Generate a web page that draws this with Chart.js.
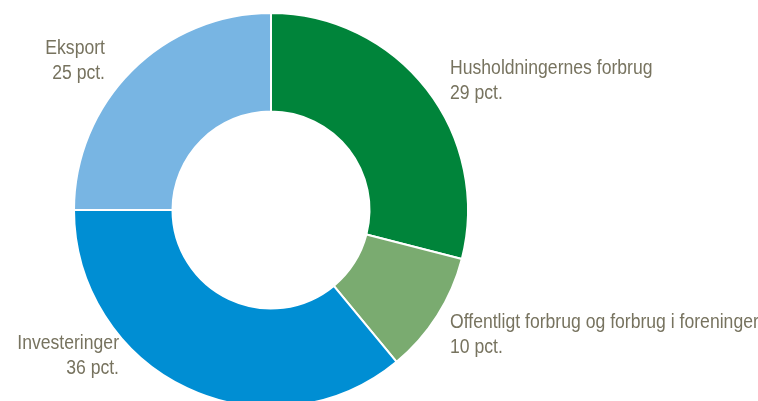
<!DOCTYPE html>
<html>
<head>
<meta charset="utf-8">
<script src="https://cdn.jsdelivr.net/npm/chart.js@4.4.1/dist/chart.umd.min.js"></script>
<style>
  html, body { margin: 0; padding: 0; background: #fff; overflow: hidden; }
  #wrap { position: relative; width: 758px; height: 420px; }
</style>
</head>
<body>
<div id="wrap"><canvas id="chart" width="758" height="420"></canvas></div>
<script>
/* =========================
   Data
========================= */

const categories = [
  "Husholdningernes forbrug",
  "Offentligt forbrug og forbrug i foreninger",
  "Investeringer",
  "Eksport"
];
const shares = [29, 10, 36, 25];
const sliceColors = ["#00843a", "#7aab70", "#008ed3", "#78b5e3"];

// label placement: [x, y of first line, alignment]
const labelSpots = [
  [450, 68, "left"],
  [450, 322, "left"],
  [119, 343, "right"],
  [105, 48, "right"]
];

/* =========================
   Label plugin (narrow look via horizontal squeeze)
========================= */

const squeeze = 0.88;

const sliceLabels = {
  id: "sliceLabels",
  afterDraw(chart) {
    const ctx = chart.ctx;
    ctx.save();
    ctx.fillStyle = "#77735f";
    ctx.font = '20px "Liberation Sans", Arial, sans-serif';
    ctx.textBaseline = "middle";
    categories.forEach((name, i) => {
      const [x, y, align] = labelSpots[i];
      ctx.save();
      ctx.translate(x, 0);
      ctx.scale(squeeze, 1);
      ctx.textAlign = align;
      ctx.fillText(name, 0, y);
      ctx.fillText(shares[i] + " pct.", 0, y + 25);
      ctx.restore();
    });
    ctx.restore();
  }
};

new Chart(document.getElementById("chart"), {
  type: "doughnut",
  data: {
    labels: categories,
    datasets: [{
      data: shares,
      backgroundColor: sliceColors,
      borderColor: "#ffffff",
      borderWidth: 2,
      hoverOffset: 0
    }]
  },
  options: {
    responsive: false,
    animation: false,
    cutout: "50%",
    layout: { padding: { left: 73, right: 289, top: 12, bottom: 12 } },
    plugins: {
      legend: { display: false },
      tooltip: { enabled: false }
    }
  },
  plugins: [sliceLabels]
});
</script>
</body>
</html>
